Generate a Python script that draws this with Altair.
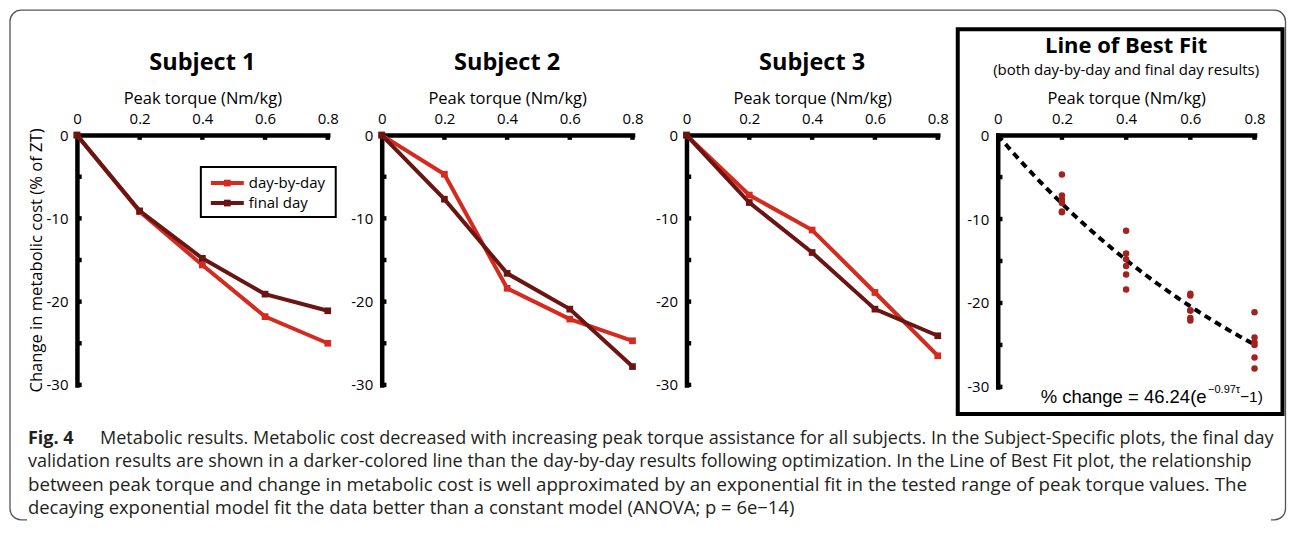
import altair as alt
import pandas as pd

# ---------------- data ----------------
torque = [0, 0.2, 0.4, 0.6, 0.8]
s1_day = [0, -9.2, -15.6, -21.8, -25.0]
s1_final = [0, -9.1, -14.8, -19.1, -21.1]
s2_day = [0, -4.7, -18.4, -22.1, -24.7]
s2_final = [0, -7.7, -16.6, -20.9, -27.8]
s3_day = [0, -7.2, -11.4, -18.9, -26.5]
s3_final = [0, -8.1, -14.1, -20.9, -24.1]

series_names = ["day-by-day", "final day"]
series_colors = ["#d42a1f", "#6b1512"]
dot_color = "#a3221d"

fit_a = 46.24
fit_b = -0.97

x_tick_values = [0, 0.2, 0.4, 0.6, 0.8]
y_label_values = [0, -10, -20, -30]
y_minor_values = [-5, -10, -15, -20, -25, -30]

panel_titles = ["Subject 1", "Subject 2", "Subject 3"]
fit_title = "Line of Best Fit"
fit_subtitle = "(both day-by-day and final day results)"
x_title = "Peak torque (Nm/kg)"
y_title = "Change in metabolic cost (% of ZT)"
eq_main = "% change = 46.24(e"
eq_sup = "\u22120.97\u03c4"
eq_end = "\u22121)"

caption_label = "Fig. 4"
caption_lines = [
    "Metabolic results. Metabolic cost decreased with increasing peak torque assistance for all subjects. In the Subject-Specific plots, the final day",
    "validation results are shown in a darker-colored line than the day-by-day results following optimization. In the Line of Best Fit plot, the relationship",
    "between peak torque and change in metabolic cost is well approximated by an exponential fit in the tested range of peak torque values. The",
    "decaying exponential model fit the data better than a constant model (ANOVA; p = 6e\u221214)",
]

FONT = "Open Sans"
SUB_W = [251, 251, 251.5]
SUB_H = 250
FIT_SHIFT = 5.5
FIT_W = 262.5
FIT_H = 252
CAPTION_SIZES = [18.05, 18.05, 18.75, 18.45]

one = pd.DataFrame({"k": [0]})


def x_enc(rng=None):
    sc = alt.Scale(domain=[0, 0.8], nice=False, zero=False)
    if rng is not None:
        sc = alt.Scale(domain=[0, 0.8], nice=False, zero=False, range=rng)
    return alt.X(
        "torque:Q", scale=sc,
        axis=alt.Axis(orient="top", values=x_tick_values, labelExpr="'' + datum.value",
                      title=x_title, labelFlush=False, titlePadding=5),
    )


def y_enc(show_title, offset=0):
    return alt.Y(
        "change:Q",
        scale=alt.Scale(domain=[-30, 0], nice=False, zero=False),
        axis=alt.Axis(orient="left", values=y_label_values, labelExpr="'' + datum.value",
                      title=y_title if show_title else None, titleFontSize=16.6, titlePadding=1,
                      offset=offset),
    )


def tick_layers(xe, ye):
    xt = alt.Chart(pd.DataFrame({"torque": x_tick_values[1:], "change": [0] * 4})).mark_square(
        size=20, color="black", opacity=1, yOffset=2.5
    ).encode(x=xe, y=ye)
    yt = alt.Chart(pd.DataFrame({"torque": [0] * len(y_minor_values), "change": y_minor_values})).mark_square(
        size=20, color="black", opacity=1, xOffset=2.5
    ).encode(x=xe, y=ye)
    return [xt, yt]


def text_layer(txt, x, y, size, weight="normal", align="center", font=FONT, color="black"):
    return alt.Chart(one).mark_text(font=font, fontSize=size, fontWeight=weight, align=align,
                                    baseline="middle", color=color).encode(
        x=alt.value(x), y=alt.value(y), text=alt.value(txt))


def legend_layers():
    layers = [alt.Chart(one).mark_rect(fill="white", stroke="black", strokeWidth=2).encode(
        x=alt.value(124), x2=alt.value(259), y=alt.value(32), y2=alt.value(82))]
    for i, (name, col) in enumerate(zip(series_names, series_colors)):
        yy = 48 + 20 * i
        layers.append(alt.Chart(one).mark_rule(color=col, strokeWidth=4).encode(
            x=alt.value(134), x2=alt.value(167), y=alt.value(yy)))
        layers.append(alt.Chart(one).mark_square(color=col, size=45, opacity=1).encode(
            x=alt.value(150.5), y=alt.value(yy)))
        layers.append(text_layer(name, 172, yy, 15, align="left"))
    return layers


def caption_layers():
    layers = [
        alt.Chart(one).mark_rect(fillOpacity=0, stroke="#555555", strokeWidth=1.3, cornerRadius=11).encode(
            x=alt.value(-67), x2=alt.value(1209.5), y=alt.value(-125), y2=alt.value(385)),
        alt.Chart(one).mark_rule(color="white", strokeWidth=4).encode(
            x=alt.value(-50), x2=alt.value(1195), y=alt.value(385)),
        text_layer(caption_label, -49, 304, 18, weight="bold", align="left", color="#231f20"),
    ]
    line_x = [23, -49, -49, -49]
    for i, txt in enumerate(caption_lines):
        layers.append(text_layer(txt, line_x[i], 304 + 23 * i, CAPTION_SIZES[i], align="left", color="#231f20"))
    return layers


def subject_panel(idx, day, final):
    rows = []
    for name, vals in zip(series_names, [day, final]):
        for t, v in zip(torque, vals):
            rows.append({"torque": t, "change": v, "series": name})
    df = pd.DataFrame(rows)
    xe = x_enc()
    ye = y_enc(idx == 0)
    color = alt.Color("series:N", scale=alt.Scale(domain=series_names, range=series_colors), legend=None)
    base = alt.Chart(df)
    line = base.mark_line(strokeWidth=4).encode(x=xe, y=ye, color=color)
    pts = base.mark_square(size=45, opacity=1).encode(x=xe, y=ye, color=color)
    layers = []
    if idx == 0:
        layers += caption_layers()
    layers += [line, pts] + tick_layers(xe, ye)
    layers.append(text_layer(panel_titles[idx], SUB_W[idx] / 2, -72, 23.5, weight="bold"))
    if idx == 0:
        layers += legend_layers()
    return alt.layer(*layers).properties(width=SUB_W[idx], height=SUB_H)


p1 = subject_panel(0, s1_day, s1_final)
p2 = subject_panel(1, s2_day, s2_final)
p3 = subject_panel(2, s3_day, s3_final)

# ----- line of best fit panel -----
all_pts = []
for vals in [s1_day, s1_final, s2_day, s2_final, s3_day, s3_final]:
    for t, v in zip(torque, vals):
        if t > 0:
            all_pts.append({"torque": t, "change": v})
scatter_df = pd.DataFrame(all_pts)

xe4 = x_enc([FIT_SHIFT, FIT_W])
ye4 = y_enc(False, offset=-FIT_SHIFT)

fit_curve = alt.Chart(alt.sequence(0, 0.8001, 0.005, as_="torque")).transform_calculate(
    change=f"{fit_a} * (exp({fit_b} * datum.torque) - 1)"
).mark_line(color="black", strokeWidth=4, strokeDash=[7, 5]).encode(x=xe4, y=ye4)

dots = alt.Chart(scatter_df).mark_circle(size=42, color=dot_color, opacity=1).encode(x=xe4, y=ye4)

box = alt.Chart(one).mark_rect(fillOpacity=0, stroke="black", strokeWidth=4).encode(
    x=alt.value(-34.5), x2=alt.value(290.5), y=alt.value(-106), y2=alt.value(279)
)

p4 = alt.layer(
    box, fit_curve, dots, *tick_layers(xe4, ye4),
    text_layer(fit_title, 134, -89.5, 22, weight="bold"),
    text_layer(fit_subtitle, 134, -65, 15),
    text_layer(eq_main, 214.5, 262, 18.5, align="right", font="Liberation Sans"),
    text_layer(eq_sup, 216, 255, 11, align="left", font="Liberation Sans"),
    text_layer(eq_end, 248, 262, 15.5, align="left", font="Liberation Sans"),
).properties(width=FIT_W, height=FIT_H)

chart = alt.hconcat(p1, p2, p3, p4, spacing=54, bounds="flush").resolve_scale(
    color="independent"
).properties(padding=0, background="white").configure_view(stroke="transparent").configure_axis(
    domainColor="black", domainWidth=4.5, domainCap="square", ticks=False, grid=False,
    labelFont=FONT, labelFontSize=15, labelColor="black", labelPadding=9,
    titleFont=FONT, titleFontSize=16.5, titleFontWeight="normal", titleColor="black",
)

chart.save("out.html", embed_options={"renderer": "svg", "actions": False})
